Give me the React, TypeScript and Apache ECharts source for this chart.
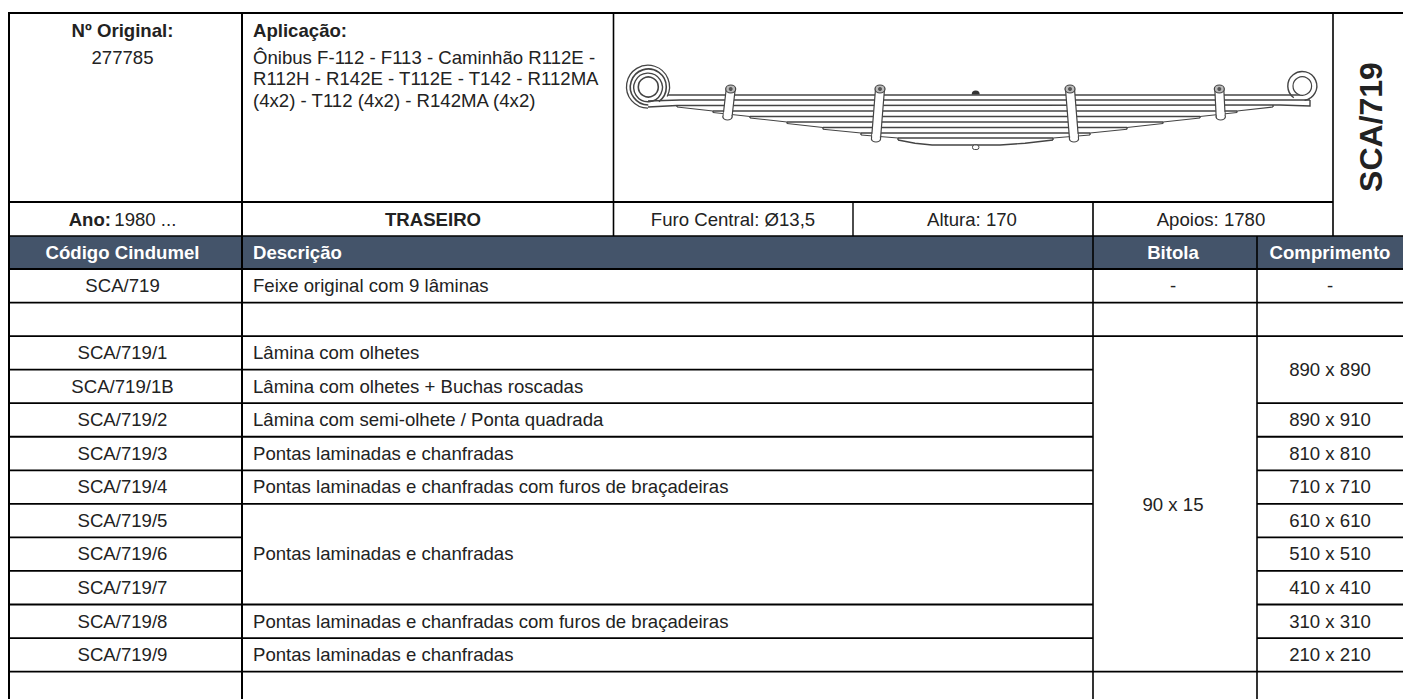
import React, { useEffect, useRef } from "react";
import * as echarts from "echarts";

const FONT = "'Liberation Sans', Arial, sans-serif";
const FS = 18.6;
const headers = ["Código Cindumel", "Descrição", "Bitola", "Comprimento"];
const codes = ["SCA/719", "", "SCA/719/1", "SCA/719/1B", "SCA/719/2", "SCA/719/3", "SCA/719/4", "SCA/719/5", "SCA/719/6", "SCA/719/7", "SCA/719/8", "SCA/719/9"];
const descriptions = [
  ["Feixe original com 9 lâminas", 0],
  ["Lâmina com olhetes", 2],
  ["Lâmina com olhetes + Buchas roscadas", 3],
  ["Lâmina com semi-olhete / Ponta quadrada", 4],
  ["Pontas laminadas e chanfradas", 5],
  ["Pontas laminadas e chanfradas com furos de braçadeiras", 6],
  ["Pontas laminadas e chanfradas", 8],
  ["Pontas laminadas e chanfradas com furos de braçadeiras", 10],
  ["Pontas laminadas e chanfradas", 11],
] as const;
const lengths = [["-", 0], ["890 x 890", 2.5], ["890 x 910", 4], ["810 x 810", 5], ["710 x 710", 6], ["610 x 610", 7], ["510 x 510", 8], ["410 x 410", 9], ["310 x 310", 10], ["210 x 210", 11]] as const;
const application = ["Ônibus F-112 - F113 - Caminhão R112E -", "R112H - R142E - T112E - T142 - R112MA", "(4x2) - T112 (4x2) - R142MA (4x2)"];

const rowTop = 269;
const rowH = 33.55;
const DARK = "#444";
const INK = "#222";

// spring geometry
const levels = [95, 100, 105, 111, 116.5, 122, 127.5, 133, 138];
const leftTips = [677, 713, 750, 787, 823, 861, 898];
const rightTips = [1273, 1237, 1200, 1163, 1127, 1090, 1053];
const tipY = [107, 112.5, 118, 123.5, 129.3, 135, 140];
const clamps = [[730.7, 727.5, 120], [880, 876, 142], [1070, 1074, 142], [1219.3, 1220.7, 120]];

function line(x1: number, y1: number, x2: number, y2: number, w = 2, c = "#000", z = 5) {
  return { type: "line", z, silent: true, shape: { x1, y1, x2, y2 }, style: { stroke: c, lineWidth: w } };
}
function txt(x: number, y: number, text: string, opt: any = {}) {
  return {
    type: "text", z: 10, x, y, silent: true, rotation: opt.rotation ?? 0,
    style: { text, font: `${opt.bold ? "bold " : ""}${opt.size ?? FS}px ${FONT}`, fill: opt.color ?? INK, align: opt.align ?? "center", verticalAlign: "middle" },
  };
}
const rowC = (i: number) => rowTop + rowH * (i + 0.5) - 0.2;
const rowL = (i: number) => rowTop + rowH * i;

function buildGraphics() {
  const g: any[] = [];
  g.push({ type: "rect", z: 1, silent: true, shape: { x: 9, y: 236, width: 1394, height: 33 }, style: { fill: "#44546a" } });
  // frame
  g.push(line(8, 13, 1403, 13, 2.2));
  g.push(line(9, 13, 9, 699, 2));
  g.push(line(242, 13, 242, 699, 2));
  g.push(line(613.5, 13, 613.5, 236, 1.6));
  g.push(line(1333, 13, 1333, 236, 1.6));
  g.push(line(9, 202, 1333, 202, 2));
  g.push(line(853, 202, 853, 236, 1.4));
  g.push(line(1093, 202, 1093, 699, 1.6));
  g.push(line(1257, 236, 1257, 699, 1.6));
  g.push(line(9, 236, 1403, 236, 1.6));
  g.push(line(9, 269, 1403, 269, 2));
  // rows
  for (let i = 1; i <= 12; i++) {
    const y = rowL(i);
    g.push(line(9, y, 242, y, 1.8));
    const descMerged = i >= 8 && i <= 9;
    if (!descMerged) g.push(line(242, y, 1093, y, 1.8));
    const bitolaOpen = i >= 3 && i <= 11;
    if (!bitolaOpen) g.push(line(1093, y, 1257, y, 1.8));
    if (i !== 3) g.push(line(1257, y, 1403, y, 1.8));
  }
  // texts
  g.push(txt(122.5, 30.5, "Nº Original:", { bold: true }));
  g.push(txt(122.5, 57, "277785"));
  g.push(txt(253, 30.5, "Aplicação:", { bold: true, align: "left" }));
  application.forEach((t, i) => g.push(txt(253, 57 + i * 21.6, t, { align: "left" })));
  g.push({
    type: "text", z: 10, x: 122.5, y: 219.5, silent: true,
    style: {
      text: "{b|Ano:} {n|1980 ...}", align: "center", verticalAlign: "middle",
      rich: { b: { font: `bold ${FS}px ${FONT}`, fill: INK }, n: { font: `${FS}px ${FONT}`, fill: INK } },
    },
  });
  g.push(txt(433, 219.5, "TRASEIRO", { bold: true }));
  g.push(txt(733, 219.5, "Furo Central: Ø13,5"));
  g.push(txt(972, 219.5, "Altura: 170"));
  g.push(txt(1211, 219.5, "Apoios: 1780"));
  g.push(txt(1371, 127, "SCA/719", { bold: true, size: 32, rotation: Math.PI / 2 }));
  g.push(txt(122.5, 252.3, headers[0], { bold: true, color: "#fff" }));
  g.push(txt(253, 252.3, headers[1], { bold: true, color: "#fff", align: "left" }));
  g.push(txt(1173, 252.3, headers[2], { bold: true, color: "#fff" }));
  g.push(txt(1330, 252.3, headers[3], { bold: true, color: "#fff" }));
  codes.forEach((c, i) => { if (c) g.push(txt(122.5, rowC(i), c)); });
  descriptions.forEach(([t, i]) => g.push(txt(253, rowC(i), t, { align: "left" })));
  g.push(txt(1173, rowC(0), "-"));
  g.push(txt(1173, 504.5, "90 x 15"));
  lengths.forEach(([t, i]) => g.push(txt(1330, rowC(i), t)));

  // leaf spring
  const sp = (s: any) => ({ z: 6, silent: true, ...s });
  const lw = 1.4;
  const st = { stroke: DARK, lineWidth: lw, fill: "none" };
  // horizontal leaf edges
  g.push(line(668, levels[0], 1303, levels[0], lw, DARK, 6));
  g.push(sp({ type: "polyline", shape: { points: [[648, 101], [680, levels[1]], [1310, levels[1]]] }, style: st }));
  g.push(sp({ type: "polyline", shape: { points: [[648, 107], [677, levels[2] + 0.5], [1280, levels[2]], [1310, 106], [1310, levels[1]]] }, style: st }));
  leftTips.forEach((lx, i) => {
    const y = levels[i + 2];
    const rx = rightTips[i];
    if (i > 0) g.push(line(lx, y, rx, y, lw, DARK, 6));
    g.push(line(lx, y, lx, tipY[i], lw, DARK, 6));
    g.push(line(rx, y, rx, tipY[i], lw, DARK, 6));
    if (i < leftTips.length - 1) {
      g.push(line(lx, tipY[i], leftTips[i + 1], levels[i + 3], 1.1, DARK, 6));
      g.push(line(rx, tipY[i], rightTips[i + 1], levels[i + 3], 1.1, DARK, 6));
    }
  });
  g.push(sp({ type: "polyline", shape: { points: [[898, 140], [915, 143.2], [932, 145], [1000, 145], [1025, 143.2], [1053, 140]] }, style: st }));
  // left eye
  g.push(sp({ type: "circle", shape: { cx: 648.3, cy: 87, r: 10 }, style: { stroke: DARK, lineWidth: 1.6, fill: "#fff" } }));
  g.push(sp({ type: "arc", shape: { cx: 648.3, cy: 87, r: 14.3, startAngle: 0.5, endAngle: Math.PI * 2.5, clockwise: true }, style: st }));
  g.push(sp({ type: "arc", shape: { cx: 648.3, cy: 87, r: 18, startAngle: Math.PI / 2, endAngle: Math.PI * 2.3, clockwise: true }, style: { ...st, lineWidth: 1.6 } }));
  g.push(sp({ type: "arc", shape: { cx: 648, cy: 86.7, r: 21.5, startAngle: Math.PI / 2, endAngle: Math.PI * 2.15, clockwise: true }, style: { ...st, lineWidth: 1.3 } }));
  // right eye
  g.push(sp({ type: "circle", shape: { cx: 1302.3, cy: 86, r: 9.3 }, style: { stroke: DARK, lineWidth: 1.2, fill: "#fff" } }));
  g.push(sp({ type: "arc", shape: { cx: 1302.3, cy: 86, r: 14.5, startAngle: Math.PI * 0.7, endAngle: Math.PI * 2.45, clockwise: true }, style: st }));
  // center bolt
  g.push(sp({ type: "sector", shape: { cx: 975.7, cy: 94.5, r0: 0, r: 4, startAngle: Math.PI, endAngle: 0, clockwise: true }, style: { fill: "#333" } }));
  g.push(sp({ type: "rect", shape: { x: 972.5, y: 145, width: 6.4, height: 4.5, r: 2 }, style: { stroke: DARK, lineWidth: 1, fill: "#fff" } }));
  // clamps
  clamps.forEach(([a, b, y2]) => {
    const h = 4.5;
    g.push({ type: "polygon", z: 7, silent: true, shape: { points: [[a - h, 89], [a + h, 89], [b + h, y2 - 3], [b - h, y2 - 3]] }, style: { fill: "#fff", stroke: DARK, lineWidth: 1.2 } });
    g.push({ type: "ellipse", z: 8, silent: true, shape: { cx: b, cy: y2 - 3, rx: h, ry: 3 }, style: { fill: "#fff", stroke: DARK, lineWidth: 1.2 } });
    g.push({ type: "rect", z: 8, silent: true, shape: { x: b - h + 0.7, y: y2 - 8, width: 2 * h - 1.4, height: 5 }, style: { fill: "#fff" } });
    g.push({ type: "ellipse", z: 8, silent: true, shape: { cx: a, cy: 89, rx: h + 0.5, ry: 4 }, style: { fill: "#bbb", stroke: DARK, lineWidth: 1.2 } });
    g.push({ type: "circle", z: 9, silent: true, shape: { cx: a, cy: 89, r: 2 }, style: { fill: "#555" } });
  });
  return g;
}

export default function App() {
  const ref = useRef<HTMLDivElement>(null);
  useEffect(() => {
    const chart = echarts.init(ref.current!, undefined, { renderer: "svg" });
    chart.setOption({ animation: false, backgroundColor: "#fff", graphic: { elements: buildGraphics() } });
    return () => chart.dispose();
  }, []);
  return <div ref={ref} style={{ position: "fixed", left: 0, top: 0, width: 1403, height: 699 }} />;
}
